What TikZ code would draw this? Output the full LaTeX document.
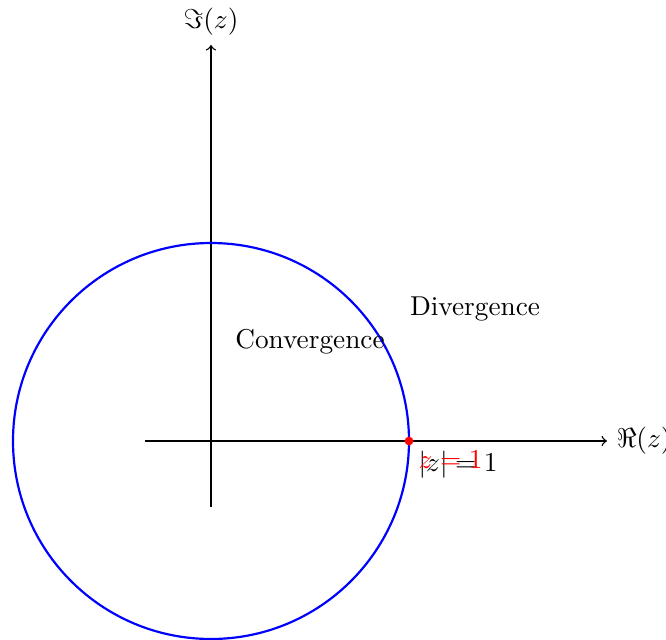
\documentclass[tikz,border=0pt]{standalone}
\usepackage{amsmath}
\begin{document}
\begin{tikzpicture}[x=24.2pt,y=24.2pt,
  axis/.style={->,line width=0.5pt},
  unitcircle/.style={blue,line width=0.8pt},
  lbl/.style={font=\normalsize}]
\useasboundingbox (-3.197,-3.015) rectangle (6.894,6.682);
\draw[axis] (-1,0) -- (6,0) node[right] (re) {$\Re(z)$};
\draw[axis] (0,-1) -- (0,6) node[above] (im) {$\Im(z)$};
\draw[unitcircle] (0,0) circle (3);
\fill[red] (3,0) circle (1.6pt);
\coordinate (one) at (3,0);
\node[lbl] (conv) at (1.5,1.5) {Convergence};
\node[lbl] (div) at (4,2) {Divergence};
\node[below right] (abs) at (one) {$|z| = 1$};
\node[below right,red] (zeq) at (one) {$z = 1$};
\end{tikzpicture}
\end{document}
